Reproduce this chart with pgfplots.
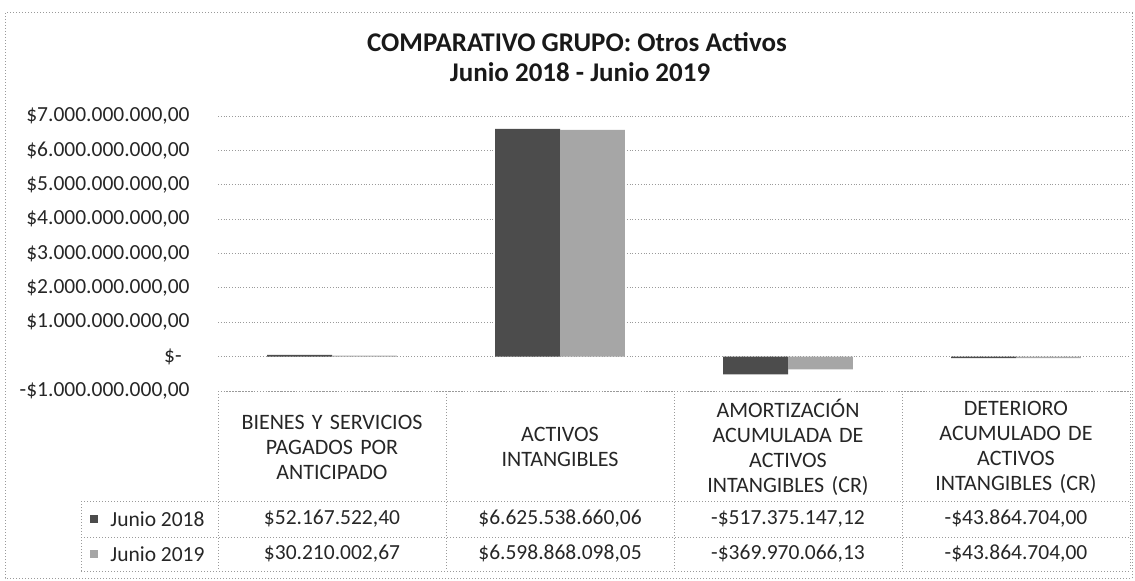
\documentclass[border=0pt]{standalone}
\usepackage{pgfplots}
\pgfplotsset{compat=1.18}
\usepackage{fontspec}
\setmainfont{Carlito}
\definecolor{cA}{HTML}{4C4C4C}
\definecolor{cB}{HTML}{A6A6A6}
\definecolor{gridc}{HTML}{9A9A9A}
\definecolor{txt}{HTML}{262626}
\begin{document}
\begin{tikzpicture}
\fontsize{10.75}{13}\selectfont
\begin{axis}[
  at={(109pt,94.5pt)}, anchor=south west, scale only axis,
  width=456pt, height=137.5pt,
  xmin=-0.5, xmax=3.5, ymin=-1e9, ymax=7e9,
  xtick=\empty, scaled y ticks=false,
  ytick={-1000000000,0,1000000000,2000000000,3000000000,4000000000,5000000000,6000000000,7000000000},
  yticklabels={{-\$1.000.000.000,00},{\$-\kern4pt},{\$1.000.000.000,00},{\$2.000.000.000,00},{\$3.000.000.000,00},{\$4.000.000.000,00},{\$5.000.000.000,00},{\$6.000.000.000,00},{\$7.000.000.000,00}},
  yticklabel style={anchor=east, inner sep=0pt, xshift=-14pt, text=txt, font=\fontsize{10.75}{13}\selectfont},
  axis line style={draw=none}, major tick length=0pt,
  ymajorgrids, grid style={gridc, densely dotted, line width=0.5pt},
  clip=false,
]
\addplot[ybar, bar width=0.285, bar shift=-0.1425, fill=cA, draw=none]
  coordinates {(0,52167522.40) (1,6625538660.06) (2,-517375147.12) (3,-43864704.00)};
\addplot[ybar, bar width=0.285, bar shift=0.1425, fill=cB, draw=none]
  coordinates {(0,30210002.67) (1,6598868098.05) (2,-369970066.13) (3,-43864704.00)};
\end{axis}
% title
\node[font=\fontsize{13.5}{16}\selectfont\bfseries, text=black!90] at (288.5pt,269pt) {COMPARATIVO GRUPO: Otros Activos};
\node[font=\fontsize{13.5}{16}\selectfont\bfseries, text=black!90] at (290pt,254pt) {Junio 2018 - Junio 2019};
% data table
\begin{scope}[gridc, densely dotted, line width=0.5pt]
\draw (109pt,94.5pt) -- (565pt,94.5pt);
\draw (40.5pt,39.5pt) -- (565pt,39.5pt);
\draw (40.5pt,21.5pt) -- (565pt,21.5pt);
\draw (40.5pt,4.5pt) -- (565pt,4.5pt);
\foreach \xx in {109,223,337,451,565} \draw (\xx pt,94.5pt) -- (\xx pt,4.5pt);
\draw (40.5pt,39.5pt) -- (40.5pt,4.5pt);
\end{scope}
\begin{scope}[every node/.style={text=txt, align=center, text width=110pt, font=\fontsize{11}{12.5}\selectfont}]
\node at (166pt,66.5pt) {BIENES Y SERVICIOS\\PAGADOS POR\\ANTICIPADO};
\node at (280pt,66.5pt) {ACTIVOS\\INTANGIBLES};
\node at (394pt,66.5pt) {AMORTIZACIÓN\\ACUMULADA DE\\ACTIVOS\\INTANGIBLES (CR)};
\node at (508pt,66.5pt) {DETERIORO\\ACUMULADO DE\\ACTIVOS\\INTANGIBLES (CR)};
\end{scope}
\begin{scope}[every node/.style={text=txt, align=center, text width=110pt, font=\fontsize{10.75}{12.5}\selectfont}]
\node at (166pt,30.5pt) {\$52.167.522,40};
\node at (280pt,30.5pt) {\$6.625.538.660,06};
\node at (394pt,30.5pt) {-\$517.375.147,12};
\node at (508pt,30.5pt) {-\$43.864.704,00};
\node at (166pt,13pt) {\$30.210.002,67};
\node at (280pt,13pt) {\$6.598.868.098,05};
\node at (394pt,13pt) {-\$369.970.066,13};
\node at (508pt,13pt) {-\$43.864.704,00};
\end{scope}
\fill[cA] (45pt,28.5pt) rectangle (49pt,32.5pt);
\fill[cB] (45pt,11pt) rectangle (49pt,15pt);
\node[anchor=west, inner sep=0pt, text=txt, font=\fontsize{10.75}{13}\selectfont] at (55pt,30.5pt) {Junio 2018};
\node[anchor=west, inner sep=0pt, text=txt, font=\fontsize{10.75}{13}\selectfont] at (55pt,13pt) {Junio 2019};
% chart border
\draw[gridc, densely dotted, line width=0.5pt] (2.5pt,283.5pt) rectangle (566pt,1pt);
\pgfresetboundingbox
\useasboundingbox (0pt,0pt) rectangle (567.5pt,290pt);
\end{tikzpicture}
\end{document}
